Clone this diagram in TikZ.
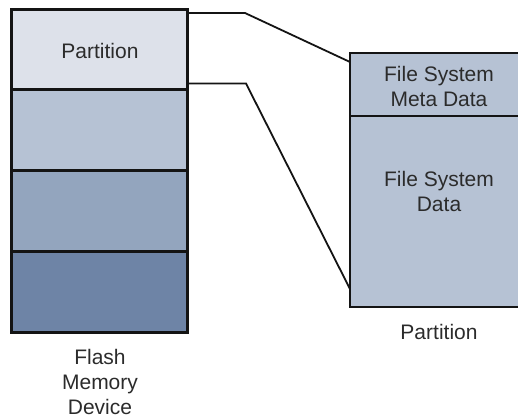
\documentclass[tikz,border=0pt]{standalone}
\usepackage{fontspec}
\setmainfont{Liberation Sans}
\definecolor{rowa}{HTML}{DDE1EA}
\definecolor{rowb}{HTML}{B6C2D4}
\definecolor{rowc}{HTML}{93A5BE}
\definecolor{rowd}{HTML}{6E84A6}
\definecolor{txt}{HTML}{2B2B2B}
\definecolor{edge}{HTML}{141414}
\begin{document}
\begin{tikzpicture}[x=1pt,y=-1pt,
  blk/.style={draw=edge,line width=2.5pt,minimum width=176pt,inner sep=0pt,outer sep=0pt,anchor=north west},
  lbl/.style={text=txt,font=\fontsize{21}{25}\selectfont,align=center,inner sep=0pt},
  conn/.style={draw=edge,line width=1.8pt}]
\useasboundingbox (0,0) rectangle (518,418);
\begin{scope}
\clip (0,0) rectangle (518,418);
\node[blk,fill=rowa,minimum height=80pt] (p1) at (11.5,9.5) {};
\node[blk,fill=rowb,minimum height=81pt] (p2) at (11.5,89.5) {};
\node[blk,fill=rowc,minimum height=81pt] (p3) at (11.5,170.5) {};
\node[blk,fill=rowd,minimum height=81pt] (p4) at (11.5,251.5) {};
\node[blk,fill=rowb,minimum height=63pt] (meta) at (350,53) {};
\node[blk,fill=rowb,minimum height=191pt] (data) at (350,116) {};
\end{scope}
\node[lbl] (tp1) at (100,51) {Partition};
\node[lbl] (tmeta) at (439,86.5) {File System\\Meta Data};
\node[lbl] (tdata) at (439,191) {File System\\Data};
\node[lbl] (tpart) at (439,331.5) {Partition};
\node[lbl] (tflash) at (100,382) {Flash\\Memory\\Device};
\coordinate (a1) at (p1.east |- 0,13);
\coordinate (a2) at (245,13);
\coordinate (a3) at (meta.west |- 0,62);
\coordinate (b1) at (p1.east |- 0,83.5);
\coordinate (b2) at (246,83.5);
\coordinate (b3) at (data.west |- 0,289);
\draw[conn] (a1) -- (a2) -- (a3);
\draw[conn] (b1) -- (b2) -- (b3);
\end{tikzpicture}
\end{document}
